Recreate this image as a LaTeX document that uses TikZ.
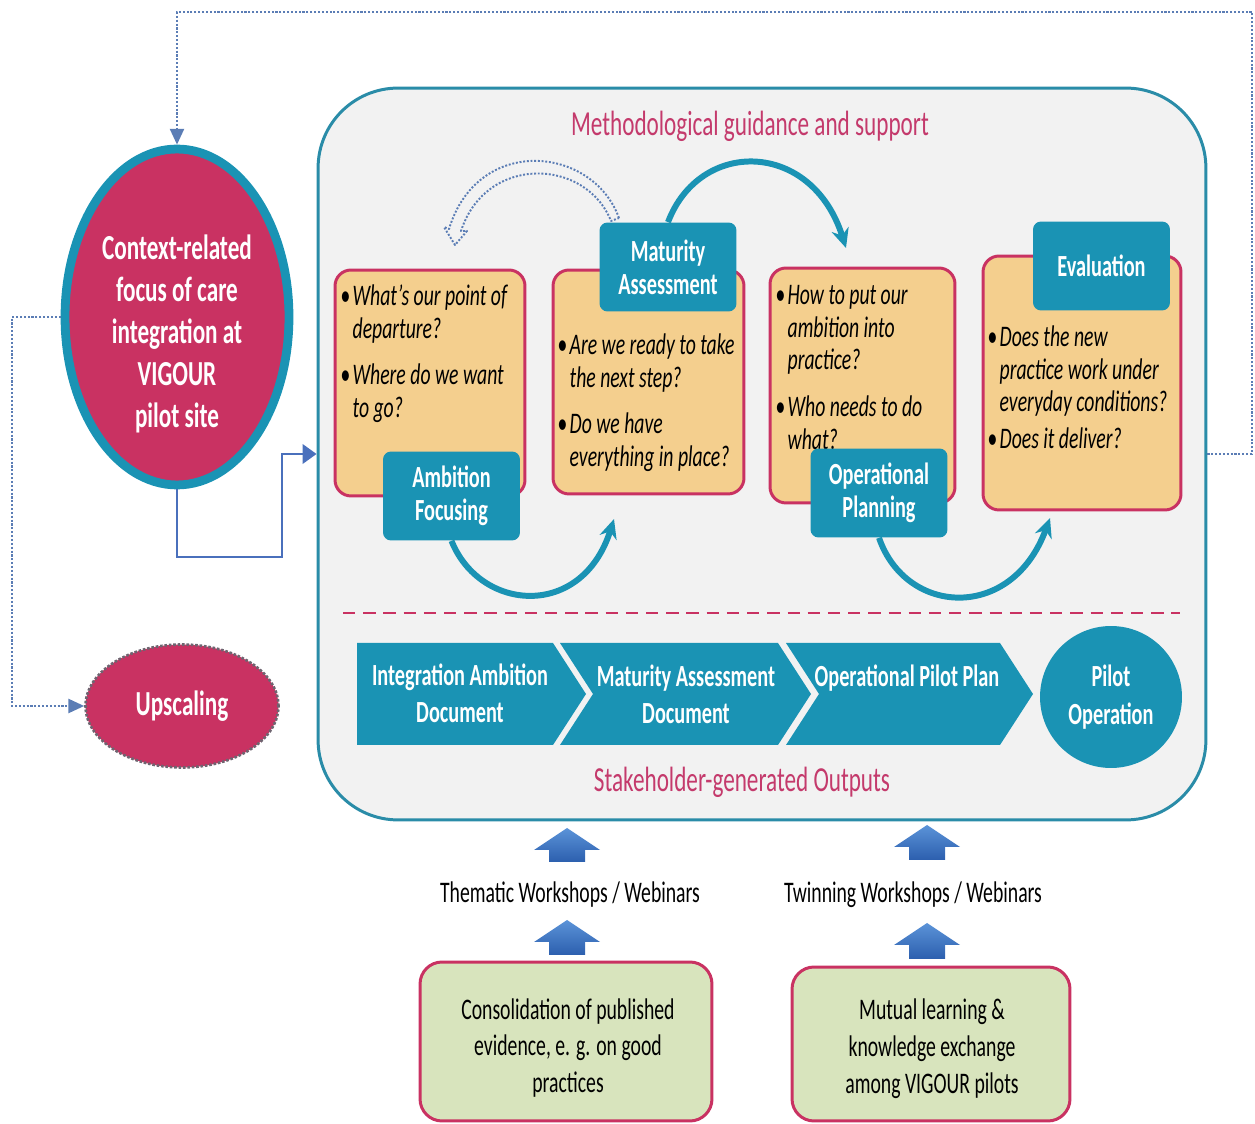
\documentclass[tikz,border=0pt]{standalone}
\usepackage{fontspec}
\setmainfont{Carlito}[FakeStretch=0.66]
\usepackage{xcolor}
\definecolor{vgCrimson}{HTML}{C93262}
\definecolor{vgTeal}{HTML}{1A93B4}
\definecolor{vgTealDark}{HTML}{2A8CA8}
\definecolor{vgSand}{HTML}{F4CF8E}
\definecolor{vgSage}{HTML}{D8E4BD}
\definecolor{vgRose}{HTML}{C43A6C}
\definecolor{vgPanel}{HTML}{F2F2F2}
\definecolor{vgBlue}{HTML}{4A70BC}
\definecolor{vgDots}{HTML}{5B7DB5}
\definecolor{vgBlueLight}{HTML}{5B93D8}
\definecolor{vgBlueDark}{HTML}{2C5FAE}
\definecolor{vgGrey}{HTML}{6E6470}
\usepackage{tikz}
\usetikzlibrary{shapes,arrows.meta,positioning,calc}

\newcommand{\qitem}[1]{\par\raggedright\spaceskip=0pt\xspaceskip=0pt\noindent\hangindent=7pt\hangafter=1\makebox[7pt][l]{\textbullet}#1\par}
\newcommand{\qgap}[1]{\vspace{#1}}

\begin{document}
\begin{tikzpicture}[
			x=0.02cm, y=-0.02cm,
			panel/.style={rectangle, rounded corners=1.6cm, draw=vgTealDark, line width=1.7pt, fill=vgPanel,
				minimum width=17.76cm, minimum height=14.64cm},
			pinktitle/.style={text=vgRose, font=\fontsize{20}{24}\selectfont},
			focus/.style={ellipse, draw=vgTeal, line width=5pt, fill=vgCrimson, inner sep=0pt},
			focuslabel/.style={text=white, align=center, font=\fontsize{20}{23.8}\selectfont\bfseries},
			upscale/.style={ellipse, draw=vgGrey, densely dotted, line width=1.5pt, fill=vgCrimson,
				text=white, font=\fontsize{20}{24}\selectfont\bfseries},
			qbox/.style={rectangle, rounded corners=0.32cm, draw=vgCrimson, line width=1.7pt, fill=vgSand},
			question/.style={anchor=north west, inner sep=0pt, text width=4cm, align=left,
				font=\fontsize{17}{18.7}\selectfont\itshape},
			stage/.style={rectangle, rounded corners=0.16cm, fill=vgTeal, text=white, align=center,
				minimum width=2.74cm, minimum height=1.78cm, font=\fontsize{17.5}{18.7}\selectfont\bfseries},
			output/.style={text=white, align=center, font=\fontsize{17.5}{21}\selectfont\bfseries},
			source/.style={rectangle, rounded corners=0.44cm, draw=vgCrimson, line width=1.7pt, fill=vgSage},
			format/.style={align=center, font=\fontsize{17}{21}\selectfont},
			cycle/.style={-{Stealth[length=11pt, width=10pt]}, line width=3.4pt, vgTeal},
			dotline/.style={densely dotted, line width=1.2pt, vgDots, -{Triangle[length=9pt, width=8pt]}},
			feed/.style={-{Triangle[length=8pt, width=11pt]}, line width=1.7pt, vgBlue},
			divider/.style={vgCrimson, line width=1.7pt, dash pattern=on 7pt off 4.5pt},
			blockarrow/.style={top color=vgBlueLight, bottom color=vgBlueDark}
			]
			\useasboundingbox (0,0) rectangle (1255,1124);

			\node[panel] (main) at (762,454) {};
			\node[pinktitle] (method) at (750,126) {Methodological guidance and support};
			\node[pinktitle] (outputs) at (742,782) {Stakeholder-generated Outputs};

			\node[focus, minimum width=4.48cm, minimum height=6.72cm] (focus) at (177,317) {};
			\node[focuslabel] (focustext) at (177,334) {Context-related\\focus of care\\integration at\\VIGOUR\\pilot site};
			\node[upscale, minimum width=3.86cm, minimum height=2.46cm] (upscale) at (182,706) {Upscaling};

			% question boxes
			\node[qbox, minimum width=3.8cm, minimum height=4.52cm] (ambbox) at (430,383) {};
			\node[qbox, minimum width=3.82cm, minimum height=4.48cm] (matbox) at (648.5,382) {};
			\node[qbox, minimum width=3.7cm, minimum height=4.7cm] (opbox) at (862.5,385.5) {};
			\node[qbox, minimum width=3.96cm, minimum height=5.08cm] (evalbox) at (1082,383) {};

			\node[question] (ambq) at (340,272) {\qitem{What’s our point of\newline departure?}\qgap{8pt}\qitem{Where do we want\newline to go?}};
			\node[question] (matq) at (557,321) {\qitem{Are we ready to take\newline the next step?}\qgap{8pt}\qitem{Do we have\newline everything in place?}};
			\node[question] (opq) at (775,271) {\qitem{How to put our\newline ambition into\newline practice?}\qgap{8pt}\qitem{Who needs to do\newline what?}};
			\node[question] (evalq) at (987,313) {\qitem{Does the new\newline practice work under\newline everyday conditions?}\qgap{2pt}\qitem{Does it deliver?}};

			\node[stage] (ambition) at (451.5,496) {Ambition\\Focusing};
			\node[stage] (maturity) at (668,267) {Maturity\\Assessment};
			\node[stage] (operational) at (879,493) {Operational\\Planning};
			\node[stage] (evaluation) at (1101.5,266) {Evaluation};

			% cycle arrows
			\coordinate (toassess) at (614,519);
			\coordinate (toplan) at (846,248);
			\coordinate (toeval) at (1050,518);
			\draw[cycle] (ambition.south) .. controls (480,612) and (582,620) .. (toassess);
			\draw[cycle] (maturity.north) .. controls (700,138) and (812,140) .. (toplan);
			\draw[cycle] (operational.south) .. controls (906,616) and (1012,622) .. (toeval);

			% step back
			\draw[vgDots, densely dotted, line width=1.1pt, line join=round]
				(619,218) .. controls (593,146) and (478,134) .. (449,229)
				-- (444,227) -- (455,245) -- (467,231) -- (461,231)
				.. controls (486,154) and (586,158) .. (611,221) -- cycle;

			\draw[divider] (343,613) -- (1180,613);

			% outputs
			\fill[vgTeal] (357,643) -- (553,643) -- (586,694) -- (553,745) -- (357,745) -- cycle;
			\fill[vgTeal] (560,643) -- (778,643) -- (811,694) -- (778,745) -- (560,745) -- (593,694) -- cycle;
			\fill[vgTeal] (786,643) -- (1000,643) -- (1033,694) -- (1000,745) -- (786,745) -- (819,694) -- cycle;
			\node[output] (iad) at (460,693) {Integration Ambition\\Document};
			\node[output] (mad) at (686,694) {Maturity Assessment\\Document};
			\node[output] (opp) at (907,678) {Operational Pilot Plan};
			\node[circle, fill=vgTeal, minimum size=2.84cm, output, font=\fontsize{17.5}{21.5}\selectfont\bfseries]
				(pilot) at (1111,697) {Pilot\\Operation};

			% inputs
			\shade[blockarrow] (567,828) -- ++(33,22) -- ++(-15,0) -- ++(0,12) -- ++(-36,0) -- ++(0,-12) -- ++(-15,0) -- cycle;
			\shade[blockarrow] (567,920) -- ++(33,22) -- ++(-15,0) -- ++(0,13) -- ++(-36,0) -- ++(0,-13) -- ++(-15,0) -- cycle;
			\shade[blockarrow] (927,825) -- ++(33,22) -- ++(-15,0) -- ++(0,13) -- ++(-36,0) -- ++(0,-13) -- ++(-15,0) -- cycle;
			\shade[blockarrow] (927,923) -- ++(33,22) -- ++(-15,0) -- ++(0,14) -- ++(-36,0) -- ++(0,-14) -- ++(-15,0) -- cycle;
			\node[format] (thematic) at (570,895) {Thematic Workshops / Webinars};
			\node[format] (twinning) at (913,895) {Twinning Workshops / Webinars};

			\node[source, minimum width=5.84cm, minimum height=3.18cm] (evidence) at (566,1041.5) {};
			\node[source, minimum width=5.56cm, minimum height=3.08cm] (exchange) at (931,1044) {};
			\node[format] (evidencetext) at (568,1048) {Consolidation of published\\evidence, e. g. on good\\practices};
			\node[format] (exchangetext) at (932,1049) {Mutual learning \&\\knowledge exchange\\among VIGOUR pilots};

			% links
			\draw[feed] (focus.south) |- (282,557) |- (main.west);
			\draw[dotline] (main.east) -- (1252,454) -- (1252,12) -| (focus.north);
			\draw[dotline] (focus.west) -- (12,317) |- (upscale.west);
		\end{tikzpicture}
\end{document}
